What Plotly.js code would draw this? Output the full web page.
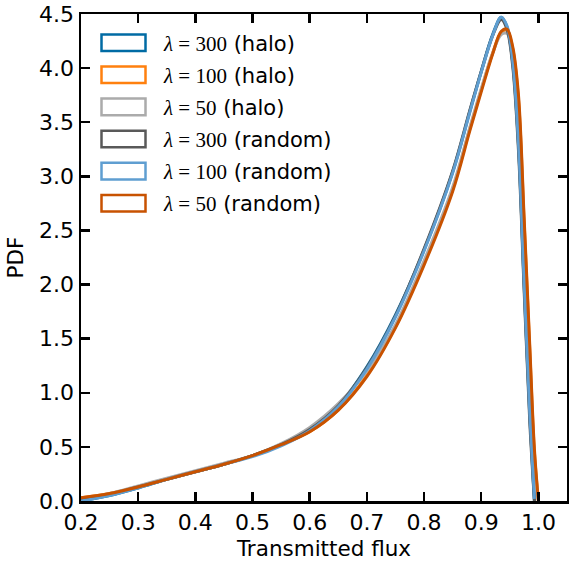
<!DOCTYPE html>
<html>
<head>
<meta charset="utf-8">
<script src="https://cdn.plot.ly/plotly-3.0.1.min.js"></script>
<style>html,body{margin:0;padding:0;background:#fff;}#chart{width:569px;height:564px;}</style>
</head>
<body>
<div id="chart"></div>
<script>
// Transmitted flux grid
var flux = [0.20,0.25,0.30,0.35,0.40,0.45,0.50,0.55,0.60,0.65,0.70,0.75,0.80,0.85,0.88,0.90,0.92,0.935,0.945,0.955,0.965,0.975,0.985,0.993,1.00];

var seriesLambda = ["300","100","50","300","100","50"];
var seriesKind = ["(halo)","(halo)","(halo)","(random)","(random)","(random)"];
var seriesColors = ["#006BA4","#FF800E","#ABABAB","#595959","#5F9ED1","#C85200"];

var pdfHalo300   = [0.00,0.05,0.12,0.20,0.27,0.34,0.42,0.52,0.66,0.88,1.24,1.72,2.32,3.04,3.60,3.97,4.31,4.47,4.38,4.05,3.30,2.00,0.77,0.00,null];
var pdfHalo100   = [0.03,0.07,0.13,0.20,0.27,0.34,0.42,0.52,0.64,0.84,1.16,1.61,2.20,2.88,3.44,3.80,4.14,4.33,4.35,4.18,3.72,2.58,1.38,0.45,0.00];
var pdfHalo50    = [0.02,0.07,0.14,0.21,0.28,0.35,0.42,0.53,0.68,0.90,1.20,1.63,2.22,2.90,3.45,3.81,4.14,4.31,4.32,4.14,3.66,2.50,1.30,0.40,0.00];
var pdfRandom300 = [0.01,0.06,0.13,0.20,0.27,0.34,0.42,0.52,0.66,0.88,1.23,1.71,2.33,3.05,3.61,3.97,4.30,4.45,4.36,4.02,3.25,1.95,0.72,0.00,null];
var pdfRandom100 = [0.00,0.05,0.12,0.20,0.27,0.34,0.41,0.51,0.65,0.87,1.22,1.70,2.31,3.03,3.59,3.96,4.30,4.47,4.39,4.07,3.32,2.03,0.80,0.02,null];
var pdfRandom50  = [0.03,0.07,0.13,0.20,0.27,0.34,0.42,0.52,0.64,0.84,1.15,1.60,2.18,2.86,3.42,3.78,4.13,4.34,4.36,4.20,3.76,2.62,1.42,0.48,0.00];

var allSeries = [pdfHalo300,pdfHalo100,pdfHalo50,pdfRandom300,pdfRandom100,pdfRandom50];

var W = 569, H = 564, ML = 81, MR = 2, MT = 14, MB = 63;
var PW = W - ML - MR, PH = H - MT - MB;
function px(xp){ return (xp - ML) / PW; }
function py(yp){ return (H - MB - yp) / PH; }

var serif = "'Liberation Serif','DejaVu Serif',serif";
var traces = allSeries.map(function(ys,i){
  return {
    x: flux, y: ys, type: "scatter", mode: "lines",
    name: "λ=" + seriesLambda[i] + " " + seriesKind[i],
    line: {color: seriesColors[i], width: 3, shape: "spline", smoothing: 1.0},
    showlegend: false, connectgaps: false, hoverinfo: "skip"
  };
});

// legend drawn with outlined boxes (matplotlib patch style)
var shapes = [], annotations = [];
var rowTop = 42.7, rowGap = 32.1, boxH = 16.6;
seriesColors.forEach(function(c,i){
  var yc = rowTop + i*rowGap;
  shapes.push({type: "rect", xref: "paper", yref: "paper",
    x0: px(101.5), x1: px(145.5), y0: py(yc + boxH/2), y1: py(yc - boxH/2),
    line: {color: c, width: 2.5}, fillcolor: "rgba(0,0,0,0)"});
  annotations.push({xref: "paper", yref: "paper", x: px(161), y: py(yc + 1),
    xanchor: "left", yanchor: "middle", showarrow: false,
    text: "<span style=\"font-family:" + serif + "\"><i>λ</i> = " + seriesLambda[i] + "</span> " + seriesKind[i],
    font: {family: "'DejaVu Sans', sans-serif", size: 21, color: "#000"}});
});

var layout = {
  width: W, height: H,
  margin: {l: ML, r: MR, t: MT, b: MB},
  paper_bgcolor: "#fff", plot_bgcolor: "#fff",
  font: {family: "'DejaVu Sans', sans-serif", size: 22, color: "#000"},
  showlegend: false,
  shapes: shapes, annotations: annotations,
  xaxis: {
    range: [0.2, 1.05], tickvals: [0.2,0.3,0.4,0.5,0.6,0.7,0.8,0.9,1.0],
    ticktext: ["0.2","0.3","0.4","0.5","0.6","0.7","0.8","0.9","1.0"],
    ticks: "inside", ticklen: 9, tickwidth: 2.5, tickcolor: "#000",
    showline: true, linewidth: 2.5, linecolor: "#000", mirror: "ticks",
    showgrid: false, zeroline: false,
    tickfont: {size: 22},
    title: {text: "Transmitted flux", font: {size: 21.5}, standoff: 7}
  },
  yaxis: {
    range: [0, 4.5], tickvals: [0,0.5,1,1.5,2,2.5,3,3.5,4,4.5],
    ticktext: ["0.0","0.5","1.0","1.5","2.0","2.5","3.0","3.5","4.0","4.5"],
    ticks: "inside", ticklen: 9, tickwidth: 2.5, tickcolor: "#000",
    showline: true, linewidth: 2.5, linecolor: "#000", mirror: "ticks",
    showgrid: false, zeroline: false,
    tickfont: {size: 22},
    title: {text: "PDF", font: {size: 21.5}, standoff: 10}
  }
};
Plotly.newPlot("chart", traces, layout, {staticPlot: true, displayModeBar: false});
</script>
</body>
</html>
